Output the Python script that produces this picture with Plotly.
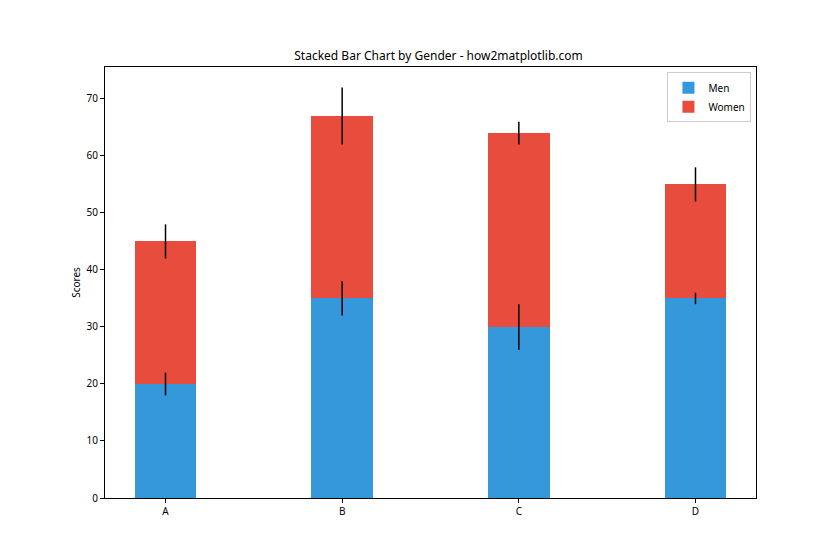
import plotly.graph_objects as go

categories = ["A", "B", "C", "D"]
men = [20, 35, 30, 35]
women = [25, 32, 34, 20]
men_err = [2, 3, 4, 1]
women_err = [3, 5, 2, 3]
ytick_vals = [0, 10, 20, 30, 40, 50, 60, 70]

FONT = "Noto Sans"
xpos = list(range(len(categories)))
stack_top = [m + w for m, w in zip(men, women)]

fig = go.Figure()
fig.add_trace(go.Bar(
    x=xpos, y=men, name="Men", width=0.35,
    marker=dict(color="#3498db", line=dict(width=0)),
))
fig.add_trace(go.Bar(
    x=xpos, y=women, name="Women", width=0.35,
    marker=dict(color="#e74c3c", line=dict(width=0)),
))
# error bars drawn on top of all bars
fig.add_trace(go.Scatter(
    x=xpos, y=men, mode="markers", marker=dict(size=0, opacity=0),
    error_y=dict(type="data", array=men_err, color="black", thickness=1.5, width=0),
    showlegend=False, hoverinfo="skip",
))
fig.add_trace(go.Scatter(
    x=xpos, y=stack_top, mode="markers", marker=dict(size=0, opacity=0),
    error_y=dict(type="data", array=women_err, color="black", thickness=1.5, width=0),
    showlegend=False, hoverinfo="skip",
))

fig.update_layout(
    barmode="stack",
    width=840, height=560,
    margin=dict(l=97, r=92, t=59, b=70),
    paper_bgcolor="white", plot_bgcolor="white",
    font=dict(family=FONT, size=10, color="black"),
    title=dict(text="Stacked Bar Chart by Gender - how2matplotlib.com",
               x=0.5125, xanchor="center", y=0.907, yanchor="bottom",
               font=dict(size=12, family=FONT, color="black")),
    showlegend=True,
    legend=dict(x=0.993, y=0.988, xanchor="right", yanchor="top",
                bgcolor="rgba(255,255,255,0.8)", bordercolor="#cccccc", borderwidth=1,
                font=dict(size=10, family=FONT), traceorder="normal",
                itemwidth=30, tracegroupgap=0),
)
fig.update_xaxes(
    range=[-0.3425, 3.3425], tickmode="array", tickvals=xpos, ticktext=categories,
    showline=True, linecolor="black", linewidth=1, mirror=True,
    ticks="outside", ticklen=4, tickcolor="black", showgrid=False, zeroline=False,
)
fig.update_yaxes(
    range=[0, 75.6], tickmode="array", tickvals=ytick_vals,
    showline=True, linecolor="black", linewidth=1, mirror=True,
    ticks="outside", ticklen=4, tickcolor="black", showgrid=False, zeroline=False,
    title=dict(text="Scores", font=dict(size=10, family=FONT), standoff=4),
)

fig.write_html("out.html")
